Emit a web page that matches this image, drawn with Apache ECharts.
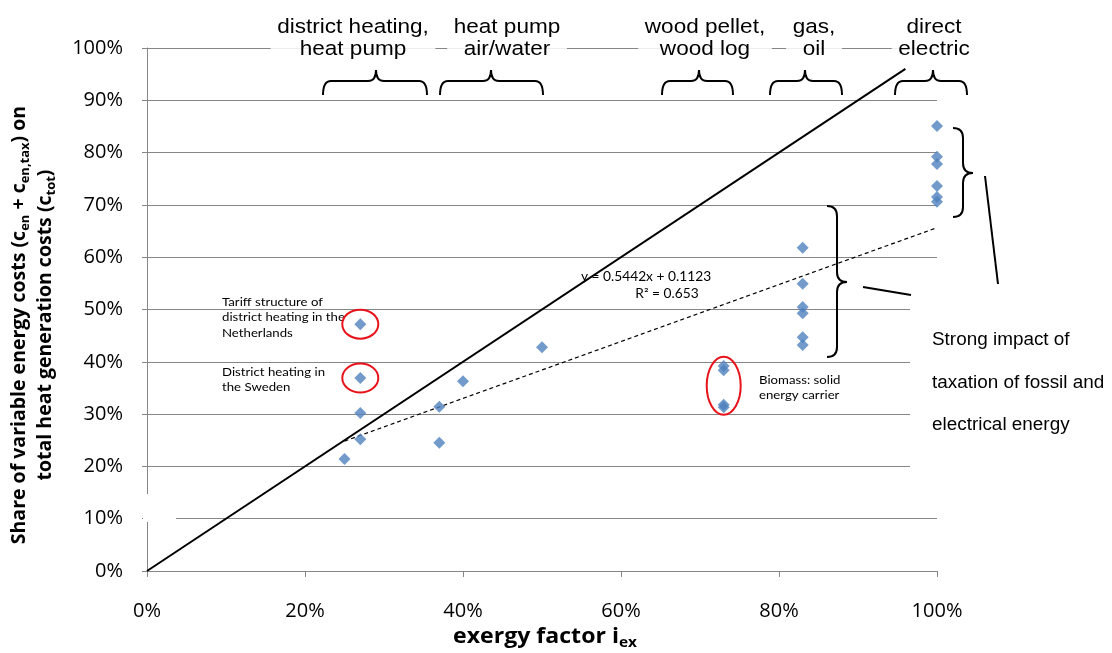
<!DOCTYPE html>
<html>
<head>
<meta charset="utf-8">
<script src="https://cdn.jsdelivr.net/npm/echarts@6/dist/echarts.min.js"></script>
<style>
  html, body { margin: 0; padding: 0; background: #fff; }
  #chart { width: 1112px; height: 653px; }
</style>
</head>
<body>
<div id="chart"></div>
<script>
// Exergy factor of each heating system (x) and share of variable energy costs (y)
const exergyFactor = [0.25, 0.27, 0.27, 0.27, 0.27, 0.37, 0.37, 0.40, 0.50,
                      0.73, 0.73, 0.73, 0.73,
                      0.83, 0.83, 0.83, 0.83, 0.83, 0.83,
                      1.00, 1.00, 1.00, 1.00, 1.00, 1.00];
const varCostShare = [0.214, 0.252, 0.302, 0.369, 0.472, 0.245, 0.314, 0.363, 0.428,
                      0.392, 0.384, 0.318, 0.313,
                      0.618, 0.549, 0.505, 0.493, 0.447, 0.432,
                      0.851, 0.792, 0.778, 0.736, 0.715, 0.706];

// Linear trend line y = a*x + b over the data range
const trendSlope = 0.5442;
const trendIntercept = 0.1123;
const trendRange = [0.25, 1.0];
const trendLabel = ['y = 0.5442x + 0.1123', 'R\u00b2 = 0.653'];

// Diagonal reference line (y = x)
const parityLine = [[0, 0], [0.96, 0.96]];

// Technology groups along the top
const groupLabels = ['district heating,\nheat pump', 'heat pump\nair/water',
                     'wood pellet,\nwood log', 'gas,\noil', 'direct\nelectric'];

const points = exergyFactor.map((x, i) => [x, varCostShare[i]]);
const trendData = trendRange.map(x => [x, trendSlope * x + trendIntercept]);

const chartEl = document.getElementById('chart');
const chart = echarts.init(chartEl, null, { width: 1112, height: 653 });

const ARIAL = '"Liberation Sans", Arial, sans-serif';
const CALI = '"Open Sans", Lato, sans-serif';
const NOTE = 'Lato, "Open Sans", sans-serif';
const AXIS_GREY = '#868686';
const SX = 1.1; // horizontal text stretch

const option = {
  backgroundColor: '#fff',
  animation: false,
  grid: { left: 147, top: 48, width: 790, height: 523, containLabel: false },
  xAxis: {
    type: 'value', min: 0, max: 1, interval: 0.2,
    axisLine: { show: true, lineStyle: { color: AXIS_GREY, width: 1 } },
    axisTick: { show: true, length: 6, lineStyle: { color: AXIS_GREY } },
    splitLine: { show: false },
    axisLabel: {
      margin: 30, color: '#000', fontFamily: CALI, fontSize: 20,
      formatter: v => Math.round(v * 100) + '%'
    }
  },
  yAxis: {
    type: 'value', min: 0, max: 1, interval: 0.1,
    axisLine: { show: true, lineStyle: { color: AXIS_GREY, width: 1 } },
    axisTick: { show: true, length: 5, lineStyle: { color: AXIS_GREY } },
    splitLine: { show: true, lineStyle: { color: AXIS_GREY, width: 1 } },
    axisLabel: {
      margin: 24, color: '#000', fontFamily: CALI, fontSize: 20,
      formatter: v => Math.round(v * 100) + '%'
    }
  },
  series: [
    {
      name: 'parity', type: 'line', data: parityLine, symbol: 'none',
      lineStyle: { color: '#000', width: 2 }, z: 3, silent: true
    },
    {
      name: 'trend', type: 'line', data: trendData, symbol: 'none',
      lineStyle: { color: '#000', width: 1.2, type: [4, 3] }, z: 3, silent: true
    },
    {
      name: 'systems', type: 'scatter', data: points, symbol: 'diamond', symbolSize: 12,
      itemStyle: { color: '#4F81BD' }, z: 4
    }
  ]
};
chart.setOption(option);

// ---- annotations ----
const toPx = (x, y) => chart.convertToPixel({ gridIndex: 0 }, [x, y]);

const braceStyle = { stroke: '#000', lineWidth: 2, fill: null };
const graphics = [];

function curve(x1, y1, cx, cy, x2, y2) {
  graphics.push({ type: 'bezierCurve', z: 20,
    shape: { x1, y1, x2, y2, cpx1: cx, cpy1: cy }, style: braceStyle });
}
function seg(x1, y1, x2, y2) {
  graphics.push({ type: 'line', z: 20, shape: { x1, y1, x2, y2 }, style: braceStyle });
}
// curly brace opening downwards, tip pointing up
function hBrace(x1, xm, x2, yTip, yMid, yEnd) {
  const r = 8;
  curve(x1, yEnd, x1, yMid, x1 + r, yMid);
  seg(x1 + r, yMid, xm - r, yMid);
  curve(xm - r, yMid, xm, yMid, xm, yTip);
  curve(xm, yTip, xm, yMid, xm + r, yMid);
  seg(xm + r, yMid, x2 - r, yMid);
  curve(x2 - r, yMid, x2, yMid, x2, yEnd);
}
// curly brace opening to the left, tip pointing right
function vBrace(xEnd, xMid, xTip, y1, ym, y2) {
  const r = 10;
  curve(xEnd, y1, xMid, y1, xMid, y1 + r);
  seg(xMid, y1 + r, xMid, ym - r);
  curve(xMid, ym - r, xMid, ym, xTip, ym);
  curve(xTip, ym, xMid, ym, xMid, ym + r);
  seg(xMid, ym + r, xMid, y2 - r);
  curve(xMid, y2 - r, xMid, y2, xEnd, y2);
}

// group captions above the plot
const groupCenters = [353, 507, 705, 814, 934];
groupLabels.forEach((t, i) => {
  graphics.push({
    type: 'text', x: groupCenters[i], y: 16, z: 20, scaleX: SX,
    style: {
      text: t, font: '20.5px ' + ARIAL, fill: '#000', align: 'center', verticalAlign: 'top',
      lineHeight: 22, backgroundColor: 'rgba(255,255,255,0.85)', padding: [0, 6, 0, 6]
    }
  });
});

// braces under the captions
[[323, 376, 427], [440, 491, 543], [662, 699, 733], [770, 805, 842], [895, 933, 967]]
  .forEach(b => hBrace(b[0], b[1], b[2], 70, 81, 95));

// braces around the fossil and electric clusters
vBrace(827, 837, 847, 206, 282, 357);
vBrace(953, 963, 973, 128, 173, 217);
seg(863, 287, 911, 295);
seg(985, 176, 998, 284);

// white box behind the taxation note
graphics.push({ type: 'rect', z: 15, shape: { x: 910, y: 300, width: 202, height: 170 }, style: { fill: '#fff' } });
graphics.push({
  type: 'text', x: 932, y: 319, z: 20, scaleX: 1.08,
  style: {
    text: 'Strong impact of\ntaxation of fossil and\nelectrical energy', font: '17.5px ' + ARIAL,
    fill: '#000', align: 'left', verticalAlign: 'top', lineHeight: 42.5
  }
});

// white patch where the axis title box meets the axis
graphics.push({ type: 'rect', z: 15, shape: { x: 143, y: 494, width: 33, height: 28 }, style: { fill: '#fff' } });

// y-axis title with subscripts
graphics.push({
  type: 'text', x: 32, y: 325, rotation: Math.PI / 2, z: 20,
  style: {
    text: '{b|Share of variable energy costs (c}{s|en}{b| + c}{s|en,tax}{b|) on}\n{b|total heat generation costs (c}{s|tot}{b|)}',
    align: 'center', verticalAlign: 'middle',
    rich: {
      b: { fontFamily: CALI, fontWeight: 'bold', fontSize: 19.5, fill: '#000', lineHeight: 26 },
      s: { fontFamily: CALI, fontWeight: 'bold', fontSize: 13, fill: '#000', verticalAlign: 'bottom', lineHeight: 26 }
    }
  }
});

// x-axis title with subscript
graphics.push({
  type: 'text', x: 545, y: 637, z: 20, scaleX: SX,
  style: {
    text: '{b|exergy factor i}{s|ex}',
    align: 'center', verticalAlign: 'middle',
    rich: {
      b: { fontFamily: CALI, fontWeight: 'bold', fontSize: 21, fill: '#000', lineHeight: 26 },
      s: { fontFamily: CALI, fontWeight: 'bold', fontSize: 14, fill: '#000', verticalAlign: 'bottom', lineHeight: 26 }
    }
  }
});

// small notes
const noteFont = '12px ' + NOTE;
[
  { t: 'Tariff structure of\ndistrict heating in the\nNetherlands', x: 222, y: 294 },
  { t: 'District heating in\nthe Sweden', x: 222, y: 364 },
  { t: 'Biomass: solid\nenergy carrier', x: 759, y: 372 }
].forEach(n => graphics.push({
  type: 'text', x: n.x, y: n.y, z: 20, scaleX: SX,
  style: { text: n.t, font: noteFont, fill: '#000', align: 'left', verticalAlign: 'top', lineHeight: 15.5 }
}));

// trend equation
graphics.push({ type: 'text', x: 646, y: 277, z: 20, scaleX: SX,
  style: { text: trendLabel[0], font: '12.5px ' + NOTE, fill: '#000', align: 'center', verticalAlign: 'middle' } });
graphics.push({ type: 'text', x: 667, y: 294, z: 20, scaleX: SX,
  style: { text: trendLabel[1], font: '12.5px ' + NOTE, fill: '#000', align: 'center', verticalAlign: 'middle' } });

// red rings around highlighted systems
[
  { c: [0.27, 0.472], rx: 18, ry: 14.5 },
  { c: [0.27, 0.369], rx: 18, ry: 14.5 },
  { c: [0.73, 0.354], rx: 17, ry: 29 }
].forEach(e => {
  const p = toPx(e.c[0], e.c[1]);
  graphics.push({
    type: 'ellipse', z: 20, shape: { cx: p[0], cy: p[1], rx: e.rx, ry: e.ry },
    style: { stroke: '#E8141B', lineWidth: 2, fill: null }
  });
});

chart.setOption({ graphic: graphics });
</script>
</body>
</html>
